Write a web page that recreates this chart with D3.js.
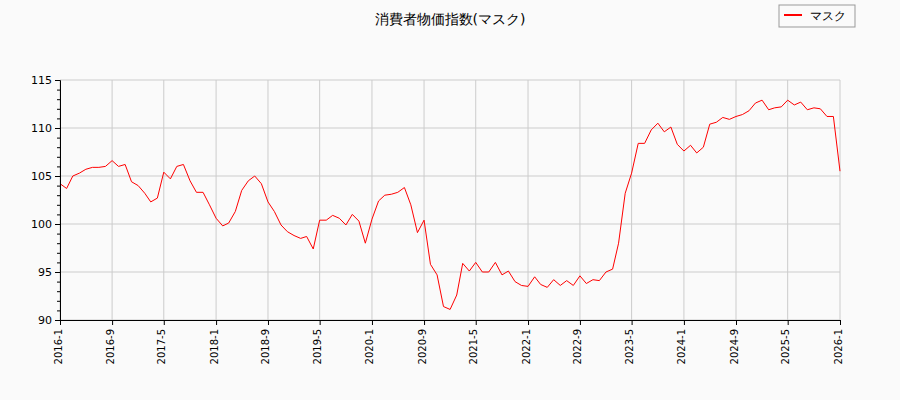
<!DOCTYPE html><html><head><meta charset="utf-8"><script src="https://cdn.jsdelivr.net/npm/d3@7"></script>
<style>body{margin:0;background:#fafafa}text{font-family:"DejaVu Sans",sans-serif}</style></head><body><svg id="c" width="900" height="400"></svg><script>
const startMonth="2016-01";
const values=[104.2,103.7,105.0,105.3,105.7,105.9,105.9,106.0,106.6,106.0,106.2,104.4,
104.0,103.2,102.3,102.7,105.4,104.7,106.0,106.2,104.5,103.3,103.3,102.0,
100.6,99.8,100.1,101.3,103.5,104.5,105.0,104.2,102.3,101.3,99.9,99.2,
98.8,98.5,98.7,97.4,100.4,100.4,100.9,100.6,99.9,101.0,100.3,98.0,
100.5,102.4,103.0,103.1,103.3,103.8,102.0,99.1,100.4,95.8,94.7,91.4,
91.1,92.6,95.9,95.1,96.0,95.0,95.0,96.0,94.7,95.1,94.0,93.6,
93.5,94.5,93.7,93.4,94.2,93.6,94.1,93.6,94.6,93.8,94.2,94.1,
95.0,95.3,98.0,103.2,105.3,108.4,108.4,109.8,110.5,109.6,110.1,108.3,
107.6,108.2,107.4,108.0,110.4,110.6,111.1,110.9,111.2,111.4,111.8,112.6,
112.9,111.9,112.1,112.2,112.9,112.4,112.7,111.9,112.1,112.0,111.2,111.2,
105.5];
const xTickLabels=["2016-1","2016-9","2017-5","2018-1","2018-9","2019-5","2020-1","2020-9","2021-5","2022-1","2022-9","2023-5","2024-1","2024-9","2025-5","2026-1"];
const yTicks=[90,95,100,105,110,115];
const title="消費者物価指数(マスク)", seriesName="マスク";
const svg=d3.select("#c");
const x=d3.scaleTime().domain([new Date(2016,0,1),new Date(2026,0,1)]).range([60,840]);
const y=d3.scaleLinear().domain([90,115]).range([320,80]);
const data=values.map((v,i)=>({d:new Date(2016,i,1),v}));
const tickDates=xTickLabels.map(s=>{const [a,b]=s.split("-");return new Date(+a,+b-1,1)});
const g=svg.append("g");
g.selectAll(".vx").data(tickDates).join("line").attr("x1",d=>x(d)).attr("x2",d=>x(d)).attr("y1",80).attr("y2",320).attr("stroke","#ccc");
g.selectAll(".hy").data(yTicks).join("line").attr("x1",60).attr("x2",840).attr("y1",d=>y(d)).attr("y2",d=>y(d)).attr("stroke","#ccc");
svg.append("path").datum(data).attr("fill","none").attr("stroke","red").attr("stroke-width",1).attr("d",d3.line().x(d=>x(d.d)).y(d=>y(d.v)));
const ya=svg.append("g").attr("transform","translate(60,0)").call(d3.axisLeft(y).tickValues(yTicks).tickSize(5).tickSizeOuter(0));
svg.append("g").attr("transform","translate(60,0)").call(d3.axisLeft(y).ticks(25).tickSize(3).tickFormat("").tickSizeOuter(0));
ya.selectAll("text").attr("font-size",11).attr("fill","#000");
const xa=svg.append("g").attr("transform","translate(0,320)").call(d3.axisBottom(x).tickValues(tickDates).tickFormat((d,i)=>xTickLabels[i]).tickSize(5).tickSizeOuter(0));
xa.selectAll("text").attr("font-size",10).attr("fill","#000").attr("transform","rotate(-90)").attr("text-anchor","end").attr("dx","-0.6em").attr("dy","-0.4em").attr("x",-3).attr("y",5);
svg.append("text").attr("x",450).attr("y",24).attr("text-anchor","middle").attr("font-size",14).text(title);
svg.append("rect").attr("x",779).attr("y",5).attr("width",76).attr("height",22).attr("fill","#fafafa").attr("stroke","#999");
svg.append("line").attr("x1",784).attr("x2",802).attr("y1",15).attr("y2",15).attr("stroke","red").attr("stroke-width",2);
svg.append("text").attr("x",810).attr("y",19.5).attr("font-size",12).text(seriesName);
</script></body></html>
